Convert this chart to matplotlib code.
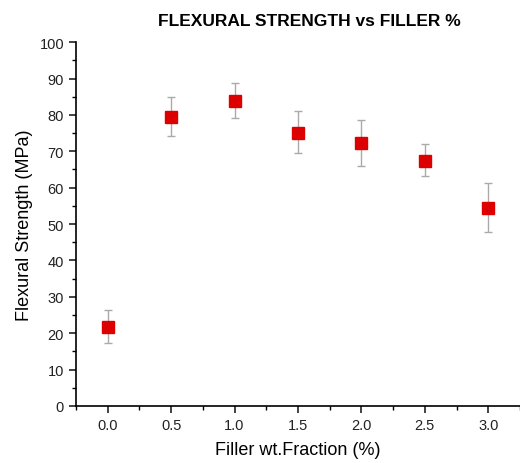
import matplotlib
matplotlib.use('Agg')
import matplotlib.pyplot as plt
from matplotlib.ticker import MultipleLocator

# filler fraction vs flexural strength
fillerPct = [0.0, 0.5, 1.0, 1.5, 2.0, 2.5, 3.0]
strength = [21.6, 79.5, 83.9, 75.0, 72.2, 67.4, 54.3]
errLow = [4.3, 5.2, 4.7, 5.6, 6.2, 4.1, 6.6]
errHigh = [4.8, 5.3, 4.8, 6.0, 6.5, 4.6, 7.0]

plt.rcParams['font.family'] = ['Liberation Sans', 'DejaVu Sans']

fig = plt.figure(figsize=(5.2, 4.64), dpi=100)
ax = fig.add_axes([0.146, 0.123, 0.854, 0.784])

ax.errorbar(fillerPct, strength, yerr=[errLow, errHigh], fmt='s',
            color='#dd0000', markersize=8.5, ecolor='#aaaaaa', elinewidth=1,
            capsize=3, capthick=1)

ax.set_xlim(-0.25, 3.25)
ax.set_ylim(0, 100)
ax.xaxis.set_major_locator(MultipleLocator(0.5))
ax.xaxis.set_minor_locator(MultipleLocator(0.25))
ax.yaxis.set_major_locator(MultipleLocator(10))
ax.yaxis.set_minor_locator(MultipleLocator(5))
ax.set_xticks([0.0, 0.5, 1.0, 1.5, 2.0, 2.5, 3.0])
ax.set_xticklabels(['0.0', '0.5', '1.0', '1.5', '2.0', '2.5', '3.0'])

ax.spines['top'].set_visible(False)
ax.spines['right'].set_visible(False)
ax.spines['left'].set_linewidth(1.2)
ax.spines['bottom'].set_linewidth(1.2)
ax.tick_params(which='major', direction='out', length=5, width=1.2,
               labelsize=10.5, colors='#222222')
ax.tick_params(which='minor', direction='out', length=3, width=1)

ax.set_xlabel('Filler wt.Fraction (%)', fontsize=13, labelpad=7)
ax.set_ylabel('Flexural Strength (MPa)', fontsize=13, labelpad=5)
fig.text(0.594, 0.953, 'FLEXURAL STRENGTH vs FILLER %', ha='center', va='center',
         fontsize=12.5, fontweight='bold')

fig.savefig('out.png', dpi=100)
